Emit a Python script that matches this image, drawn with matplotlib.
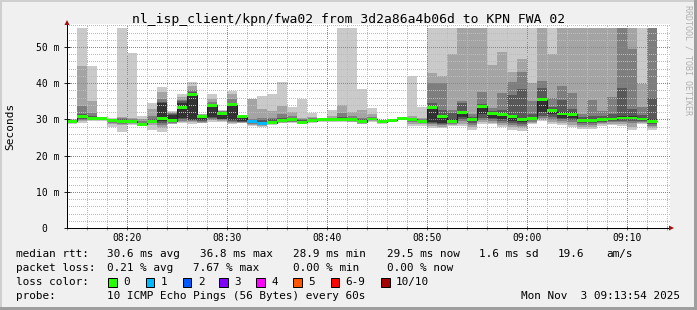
import matplotlib
matplotlib.use('Agg')
import numpy as np
import matplotlib.pyplot as plt
from matplotlib.patches import Rectangle, Polygon
from matplotlib.ticker import MultipleLocator
import matplotlib.transforms as mtransforms

plt.rcParams['font.family'] = ['DejaVu Sans Mono']
plt.rcParams['lines.antialiased'] = False  # crisp dotted grid like rrdtool

W, H = 697, 310

# one step per minute, first step starts 08:14
step_start = list(range(14, 73))

# ten sorted pings per step (ms), p1 = fastest, p10 = slowest
p1 = [28.8, 29.0, 29.5, 29.5, 28.0, 26.6, 28.5, 28.2, 27.1, 26.6,
      28.6, 29.0, 28.7, 28.9, 29.4, 29.4, 28.7, 28.9, 28.2, 28.0,
      28.4, 28.9, 29.0, 28.6, 29.0, 29.3, 29.3, 29.3, 29.2, 28.6,
      29.4, 28.8, 29.3, 29.7, 28.2, 28.2, 27.6, 27.5, 28.2, 28.2,
      27.0, 28.7, 28.6, 27.8, 27.1, 26.8, 28.7, 29.5, 28.7, 28.5,
      27.8, 27.3, 27.4, 28.2, 28.5, 28.2, 27.2, 28.6, 27.2]
p2 = [29.0, 29.5, 29.7, 29.7, 28.6, 28.4, 28.8, 28.4, 28.5, 27.5,
      28.8, 29.3, 29.2, 29.1, 29.7, 29.6, 29.0, 29.0, 28.5, 28.2,
      28.6, 29.1, 29.2, 28.8, 29.2, 29.5, 29.5, 29.5, 29.4, 28.8,
      29.6, 28.9, 29.4, 29.8, 28.8, 28.6, 28.2, 28.0, 28.5, 28.8,
      27.8, 29.2, 29.0, 28.5, 27.8, 27.5, 29.0, 30.0, 29.3, 29.0,
      28.5, 27.8, 27.9, 28.6, 28.8, 28.8, 28.0, 28.9, 27.7]
p3 = [29.2, 29.8, 29.9, 29.8, 29.0, 28.8, 29.0, 28.5, 28.9, 28.5,
      29.0, 29.6, 29.5, 29.3, 30.0, 29.8, 29.3, 29.2, 28.8, 28.4,
      28.8, 29.3, 29.4, 28.9, 29.3, 29.6, 29.6, 29.6, 29.6, 28.9,
      29.8, 29.0, 29.5, 29.9, 29.4, 28.9, 28.7, 28.5, 28.8, 29.5,
      28.5, 29.8, 29.5, 29.0, 28.5, 28.2, 29.4, 30.5, 30.0, 29.5,
      29.2, 28.5, 28.5, 29.0, 29.2, 29.2, 29.0, 29.2, 28.3]
p4 = [29.3, 30.2, 30.0, 29.9, 29.3, 29.0, 29.2, 28.6, 29.2, 29.0,
      29.2, 30.0, 29.7, 29.5, 30.3, 30.0, 29.6, 29.3, 29.0, 28.6,
      28.9, 29.5, 29.6, 29.0, 29.4, 29.7, 29.7, 29.8, 29.7, 29.0,
      29.9, 29.1, 29.6, 30.0, 29.7, 29.1, 29.0, 28.8, 29.0, 30.0,
      29.0, 30.5, 30.0, 29.5, 29.0, 28.8, 29.7, 31.0, 30.8, 30.0,
      29.8, 29.0, 29.0, 29.4, 29.5, 29.6, 29.5, 29.5, 28.8]
p5 = [29.4, 30.4, 30.1, 30.0, 29.6, 29.2, 29.4, 28.6, 29.4, 29.6,
      29.4, 30.3, 29.8, 29.7, 30.8, 30.2, 29.8, 29.5, 29.2, 28.8,
      29.0, 29.6, 29.7, 29.1, 29.5, 29.8, 29.8, 29.9, 29.8, 29.2,
      30.0, 29.2, 29.7, 30.1, 29.9, 29.3, 29.3, 29.0, 29.2, 30.7,
      29.5, 31.5, 30.5, 30.0, 29.6, 29.3, 30.0, 32.0, 31.5, 30.5,
      30.3, 29.3, 29.5, 29.7, 29.8, 30.0, 30.0, 29.8, 29.2]
p6 = [29.6, 31.0, 30.4, 30.3, 29.9, 29.5, 29.6, 28.8, 29.7, 34.5,
      31.2, 34.4, 37.0, 31.0, 34.0, 31.8, 34.2, 30.9, 29.6, 29.3,
      29.6, 30.1, 30.1, 29.5, 29.8, 30.0, 30.1, 30.2, 30.2, 29.6,
      30.3, 29.5, 29.9, 30.3, 30.1, 29.6, 33.6, 31.2, 30.0, 32.2,
      30.3, 33.8, 31.9, 31.6, 31.2, 30.3, 30.7, 36.0, 32.7, 32.0,
      32.0, 30.0, 30.2, 30.4, 30.5, 31.0, 30.9, 30.5, 30.2]
p7 = [29.7, 31.5, 31.0, 30.4, 30.0, 30.0, 29.8, 29.0, 30.2, 34.7,
      31.6, 35.0, 37.5, 31.2, 34.3, 32.0, 34.6, 31.0, 29.8, 29.8,
      30.0, 30.5, 30.4, 29.7, 30.0, 30.1, 30.2, 30.6, 30.5, 30.0,
      30.5, 29.6, 29.9, 30.3, 30.3, 29.8, 34.5, 32.6, 31.7, 34.5,
      30.8, 34.3, 32.3, 32.5, 36.7, 38.5, 31.5, 38.6, 33.5, 35.4,
      33.0, 30.8, 31.0, 31.0, 31.5, 38.7, 33.0, 31.2, 35.8]
p8 = [29.8, 33.7, 31.8, 30.5, 30.1, 30.3, 30.0, 29.5, 31.0, 35.6,
      31.9, 35.4, 38.2, 31.3, 34.8, 32.2, 35.6, 31.1, 30.0, 30.5,
      30.5, 31.5, 31.0, 30.0, 30.3, 30.2, 30.5, 31.8, 31.0, 30.5,
      30.8, 29.7, 30.0, 30.4, 30.5, 30.0, 40.0, 40.0, 32.5, 35.0,
      31.5, 37.6, 33.1, 37.4, 40.4, 43.0, 35.0, 40.6, 35.8, 39.2,
      37.3, 31.5, 35.3, 32.3, 36.1, 55.2, 49.4, 33.4, 55.2]
p9 = [29.9, 44.7, 35.1, 30.6, 30.2, 30.7, 30.3, 30.0, 32.9, 37.5,
      32.1, 36.3, 39.2, 31.4, 35.6, 32.4, 37.0, 31.2, 35.5, 33.0,
      32.2, 33.7, 32.0, 30.5, 30.8, 30.3, 31.0, 34.0, 32.0, 32.5,
      31.5, 29.8, 30.1, 30.4, 31.0, 30.5, 42.9, 42.0, 48.2, 55.2,
      55.2, 55.2, 45.0, 48.7, 43.2, 46.7, 40.0, 55.2, 48.0, 55.2,
      55.2, 55.2, 55.2, 55.2, 55.2, 55.2, 55.2, 39.8, 55.2]
p10 = [30.0, 55.2, 44.7, 30.7, 30.3, 55.2, 48.4, 30.9, 34.4, 38.9,
       32.3, 37.0, 40.4, 31.6, 37.0, 32.6, 37.9, 31.3, 35.6, 36.4,
       37.0, 40.4, 33.3, 35.6, 31.8, 30.4, 32.5, 55.2, 55.2, 38.4,
       33.1, 29.9, 30.2, 30.5, 42.0, 33.4, 55.2, 55.2, 55.2, 55.2,
       55.2, 55.2, 55.2, 55.2, 55.2, 55.2, 55.2, 55.2, 55.2, 55.2,
       55.2, 55.2, 55.2, 55.2, 55.2, 55.2, 55.2, 55.2, 55.2]
median = [29.5, 30.7, 30.3, 30.2, 29.8, 29.3, 29.5, 28.7, 29.5, 30.2,
          29.6, 33.2, 36.8, 30.8, 33.9, 31.6, 34.1, 30.8, 29.3, 28.9,
          29.1, 29.8, 29.9, 29.2, 29.6, 29.9, 29.9, 30.0, 29.9, 29.3,
          30.1, 29.3, 29.8, 30.2, 30.0, 29.4, 33.3, 30.8, 29.3, 31.9,
          29.9, 33.6, 31.7, 31.3, 30.8, 29.9, 30.3, 35.4, 32.4, 31.5,
          31.4, 29.6, 29.8, 30.0, 30.1, 30.4, 30.4, 30.1, 29.5]
loss = [0] * 18 + [1, 1] + [0] * 39

loss_keys = [0, 1, 2, 3, 4, 5, 6, 10]
loss_labels = ['0', '1', '2', '3', '4', '5', '6-9', '10/10']
loss_cols = ['#26ff00', '#00b8ff', '#0059ff', '#7e00ff',
             '#ff00ff', '#ff5500', '#ff0000', '#a10000']

time_ticks = [20, 30, 40, 50, 60, 70]
time_labels = ['08:20', '08:30', '08:40', '08:50', '09:00', '09:10']
y_ticks = [0, 10, 20, 30, 40, 50]
y_labels = ['0', '10 m', '20 m', '30 m', '40 m', '50 m']

rtt_text = [(16, 'median rtt:'), (107.3, '30.6 ms avg'), (200, '36.8 ms max'),
            (293, '28.9 ms min'), (386.7, '29.5 ms now'), (479, '1.6 ms sd'),
            (558, '19.6'), (606.7, 'am/s')]
loss_text = [(16, 'packet loss:'), (107.3, '0.21 % avg'), (192.7, '7.67 % max'),
             (292.7, '0.00 % min'), (386.7, '0.00 % now')]
box_x = [108.3, 145.7, 182.7, 219.3, 256, 293.3, 330.7, 381]

fig = plt.figure(figsize=(W / 100, H / 100), dpi=100, facecolor='#f0f0f0')

# plot area in pixels: x 67..670, y 24..228
ax = fig.add_axes([67 / W, (H - 228) / H, 603 / W, 204 / H])
ax.set_facecolor('white')
ax.set_xlim(14, 14 + 60.3)
ax.set_ylim(0, 204 / 3.62)

pings = [np.array(p) for p in (p1, p2, p3, p4, p5, p6, p7, p8, p9, p10)]
smoke_cols = ['#cacaca', '#a4a4a4', '#7e7e7e', '#585858', '#323232']
for i, c in enumerate(smoke_cols):
    lo, hi = pings[i], pings[9 - i]
    ax.bar(step_start, hi - lo, bottom=lo, width=1, align='edge',
           color=c, linewidth=0, zorder=1)

med = np.array(median)
edges = step_start + [step_start[-1] + 1]
ax.stairs(med, edges, baseline=None, color='#202020', lw=0.75, zorder=3)
cmap = dict(zip(loss_keys, loss_cols))
ax.bar(step_start, 0.8, bottom=med - 0.4, width=1, align='edge',
       color=[cmap[l] for l in loss], linewidth=0, zorder=4)

# grid and ticks
ax.set_xticks(time_ticks)
ax.set_xticklabels(time_labels)
ax.xaxis.set_minor_locator(MultipleLocator(2))
ax.set_yticks(y_ticks)
ax.set_yticklabels(y_labels)
ax.yaxis.set_minor_locator(MultipleLocator(2))
ax.set_axisbelow(False)
ax.grid(which='major', color='#e86060', ls=(0, (1, 2)), lw=0.72)
ax.grid(which='minor', color='#bcbcbc', ls=(0, (1, 2)), lw=0.72)
ax.tick_params(axis='x', which='major', direction='inout', length=2.9,
               color='#d04040', width=0.72, labelsize=7, pad=2.5)
ax.tick_params(axis='x', which='minor', direction='inout', length=2.2,
               color='#a0a0a0', width=0.72)
ax.tick_params(axis='y', which='major', direction='inout', length=4.3,
               color='#202020', width=0.72, labelsize=7, pad=3.2)
ax.tick_params(axis='y', which='minor', length=0)
zero_lab = ax.get_yticklabels()[0]
zero_lab.set_transform(zero_lab.get_transform() +
                       mtransforms.ScaledTranslation(-0.12, 0, fig.dpi_scale_trans))
for s in ('top', 'right'):
    ax.spines[s].set_visible(False)
for s in ('left', 'bottom'):
    ax.spines[s].set_color('black')
    ax.spines[s].set_linewidth(0.72)
    ax.spines[s].set_zorder(5)

# overlay in pixel coordinates for frame, arrows and legend
ov = fig.add_axes([0, 0, 1, 1], zorder=10)
ov.set_xlim(0, W)
ov.set_ylim(H, 0)
ov.axis('off')
ov.patch.set_visible(False)
ov.add_patch(Rectangle((0, 0), W, 2, color='#cfcfcf', lw=0))
ov.add_patch(Rectangle((0, 0), 2, H, color='#cfcfcf', lw=0))
ov.add_patch(Rectangle((0, H - 3), W, 3, color='#9e9e9e', lw=0))
ov.add_patch(Rectangle((W - 3, 0), 3, H, color='#9e9e9e', lw=0))
ov.add_patch(Polygon([(669, 225.5), (674, 228), (669, 230.5)], color='#a01010', lw=0))
ov.add_patch(Polygon([(64.5, 25), (67, 20), (69.5, 25)], color='#a01010', lw=0))

ov.text(348.5, 19.3, 'nl_isp_client/kpn/fwa02 from 3d2a86a4b06d to KPN FWA 02',
        ha='center', va='center', fontsize=9.4)
ov.text(10, 126.5, 'Seconds', rotation=90, ha='center', va='center', fontsize=8)
ov.text(688, 5, 'RRDTOOL / TOBI OETIKER', rotation=270, ha='center', va='top',
        fontsize=6, color='#b0b0b0')

fs = 7.93
for x, t in rtt_text:
    ov.text(x, 254.3, t, ha='left', va='center', fontsize=fs)
for x, t in loss_text:
    ov.text(x, 268.3, t, ha='left', va='center', fontsize=fs)
ov.text(16, 282.3, 'loss color:', ha='left', va='center', fontsize=fs)
for x, c, t in zip(box_x, loss_cols, loss_labels):
    ov.add_patch(Rectangle((x, 277.8), 8.5, 9, facecolor=c, edgecolor='black', lw=0.72))
    ov.text(x + 15, 282.3, t, ha='left', va='center', fontsize=fs)
ov.text(16, 296, 'probe:', ha='left', va='center', fontsize=fs)
ov.text(107.3, 296, '10 ICMP Echo Pings (56 Bytes) every 60s', ha='left',
        va='center', fontsize=fs)
ov.text(680, 296, 'Mon Nov  3 09:13:54 2025', ha='right', va='center', fontsize=fs)

fig.savefig('out.png', dpi=100, facecolor=fig.get_facecolor())
